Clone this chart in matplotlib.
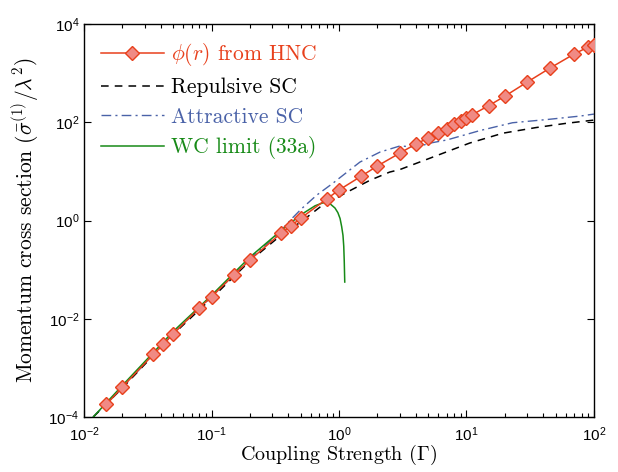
import matplotlib
matplotlib.use("Agg")
import matplotlib.pyplot as plt
from matplotlib.ticker import LogLocator, LogFormatterSciNotation, NullLocator

# HNC data points (red diamonds)
gamma_hnc = [0.015, 0.02, 0.035, 0.042, 0.05, 0.08, 0.1, 0.15, 0.2, 0.35, 0.42, 0.5,
             0.8, 1.0, 1.5, 2, 3, 4, 5, 6, 7, 8, 9, 10, 11, 15, 20, 30, 45, 70, 90, 100]
sigma_hnc = [1.81e-4, 4.08e-4, 1.89e-3, 3.02e-3, 4.9e-3, 0.0166, 0.0281, 0.078, 0.157,
             0.55, 0.78, 1.11, 2.74, 4.18, 8.05, 12.9, 23.6, 36, 47.8, 60, 72, 91.6,
             107, 122, 141, 219, 340, 660, 1260, 2460, 3400, 3800]

# Repulsive screened Coulomb
gamma_rep = [0.0118, 0.02, 0.05, 0.1, 0.2, 0.35, 0.5, 0.71, 1.02, 1.16, 1.75, 2.5,
             3.0, 5.2, 10.6, 19.3, 35, 60, 100]
sigma_rep = [1e-4, 3.9e-4, 4.8e-3, 0.026, 0.15, 0.5, 0.93, 1.88, 3.16, 3.8, 6.6, 9.7,
             10.9, 18.7, 37.8, 60, 78, 95, 111]

# Attractive screened Coulomb
gamma_att = [0.0118, 0.02, 0.05, 0.1, 0.2, 0.3, 0.35, 0.42, 0.51, 0.67, 0.9, 1.02,
             1.46, 2.1, 3.0, 4.1, 5.2, 7.0, 12.8, 23, 43, 78, 100]
sigma_att = [1e-4, 4.0e-4, 5.0e-3, 0.028, 0.165, 0.42, 0.62, 1.05, 1.75, 3.3, 5.8, 7.5,
             15.5, 24.8, 32.9, 31.4, 37.8, 43.6, 68, 98, 114, 134, 147]

# Weak coupling limit
gamma_wc = [0.0118, 0.02, 0.05, 0.1, 0.2, 0.35, 0.5, 0.65, 0.75, 0.85, 0.93, 0.98,
            1.02, 1.05, 1.075, 1.09, 1.1, 1.11]
sigma_wc = [1e-4, 4.4e-4, 5.5e-3, 0.030, 0.18, 0.62, 1.3, 2.0, 2.3, 2.2, 1.8, 1.45,
            1.1, 0.75, 0.5, 0.3, 0.15, 0.056]

plt.rcParams["mathtext.fontset"] = "custom"
plt.rcParams["mathtext.rm"] = "Liberation Sans"
plt.rcParams["mathtext.it"] = "Liberation Sans:italic"
plt.rcParams["font.family"] = "Liberation Sans"

red = "#e8401c"
black = "#000000"
blue = "#4a62a8"
green = "#178a17"

fig = plt.figure(figsize=(6.18, 4.72), dpi=100)
ax = fig.add_axes([0.136, 0.1165, 0.825, 0.8325])

ax.plot(gamma_hnc, sigma_hnc, color=red, lw=1.1, marker="D", ms=7,
        mfc="#f08a84", mec=red, mew=1.0, label=r"$\phi(r)$ from HNC", zorder=4)
ax.plot(gamma_rep, sigma_rep, color=black, lw=1.1, ls=(0, (5, 4)),
        label="Repulsive SC", zorder=3)
ax.plot(gamma_att, sigma_att, color=blue, lw=1.0, ls=(0, (7, 3, 1.5, 3)),
        label="Attractive SC", zorder=2)
ax.plot(gamma_wc, sigma_wc, color=green, lw=1.1, label="WC limit (33a)", zorder=3)

ax.set_xscale("log")
ax.set_yscale("log")
ax.set_xlim(1e-2, 1e2)
ax.set_ylim(1e-4, 1e4)

ax.xaxis.set_major_locator(LogLocator(base=10, numticks=10))
ax.xaxis.set_minor_locator(LogLocator(base=10, subs=range(2, 10), numticks=20))
ax.yaxis.set_major_locator(LogLocator(base=100, numticks=10))
ax.yaxis.set_minor_locator(NullLocator())
ax.xaxis.set_major_formatter(LogFormatterSciNotation())
ax.yaxis.set_major_formatter(LogFormatterSciNotation(base=10))

ax.tick_params(which="both", direction="in", top=True, right=True, labelsize=11,
               width=0.8)
ax.tick_params(which="major", length=5)
ax.tick_params(which="minor", length=3)
ax.tick_params(axis="x", which="major", pad=6)
for s in ax.spines.values():
    s.set_linewidth(1.0)

ax.set_xlabel(r"Coupling Strength $(\Gamma)$", fontsize=14.5, family="cmr10",
              math_fontfamily="cm", labelpad=-1)
ax.set_ylabel(r"Momentum cross section $(\bar{\sigma}^{(1)}/\lambda^2)$",
              fontsize=15.5, family="cmr10", math_fontfamily="cm", labelpad=5)

leg = ax.legend(loc="upper left", frameon=False, prop={"family": "cmr10", "size": 15.5},
                handlelength=2.9, labelspacing=0.45, borderaxespad=0.5,
                handletextpad=0.35, numpoints=1, borderpad=0.3)
for t, c in zip(leg.get_texts(), [red, black, blue, green]):
    t.set_color(c)
    t.set_math_fontfamily("cm")

plt.savefig("out.png", dpi=100)
plt.close()
